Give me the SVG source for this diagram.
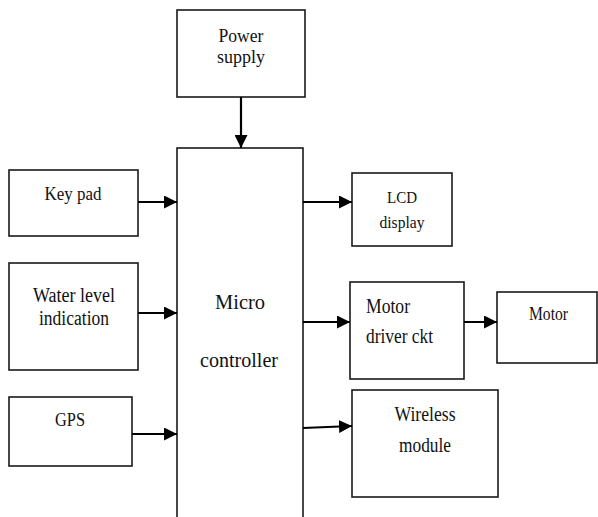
<svg xmlns="http://www.w3.org/2000/svg" width="598" height="517" viewBox="0 0 598 517">
<style>
.box{fill:#fff;stroke:#1a1a1a;stroke-width:1.6}
.con{fill:none;stroke:#000;stroke-width:2.2}
.t{fill:#111}
.m{text-anchor:middle}
</style>
<defs>
<marker id="ah" markerUnits="userSpaceOnUse" markerWidth="14" markerHeight="13" refX="13" refY="6.5" orient="auto">
<path d="M0,0 L13,6.5 L0,13 z" fill="#000"/>
</marker>
</defs>
<rect width="598" height="517" fill="#fff"/>
<g font-family="'Liberation Serif', 'DejaVu Serif', serif">
<g id="power">
<rect class="box" x="177" y="10" width="128" height="87"/>
<text class="t m" x="241" y="42" font-size="19" textLength="45" lengthAdjust="spacingAndGlyphs">Power</text>
<text class="t m" x="241" y="63" font-size="19" textLength="48" lengthAdjust="spacingAndGlyphs">supply</text>
</g>
<g id="micro">
<rect class="box" x="177" y="148" width="126" height="400"/>
<text class="t m" x="240" y="309" font-size="22" textLength="50" lengthAdjust="spacingAndGlyphs">Micro</text>
<text class="t m" x="239" y="367" font-size="22" textLength="78" lengthAdjust="spacingAndGlyphs">controller</text>
</g>
<g id="keypad">
<rect class="box" x="9" y="170" width="129" height="66"/>
<text class="t m" x="73" y="200" font-size="19" textLength="57" lengthAdjust="spacingAndGlyphs">Key pad</text>
</g>
<g id="water">
<rect class="box" x="9" y="263" width="129" height="107"/>
<text class="t m" x="74" y="302" font-size="20" textLength="82" lengthAdjust="spacingAndGlyphs">Water level</text>
<text class="t m" x="74" y="325" font-size="20" textLength="70" lengthAdjust="spacingAndGlyphs">indication</text>
</g>
<g id="gps">
<rect class="box" x="9" y="397" width="123" height="69"/>
<text class="t m" x="70" y="426" font-size="18" textLength="30" lengthAdjust="spacingAndGlyphs">GPS</text>
</g>
<g id="lcd">
<rect class="box" x="352" y="173" width="100" height="73"/>
<text class="t m" x="402" y="203" font-size="17" textLength="30" lengthAdjust="spacingAndGlyphs">LCD</text>
<text class="t m" x="402" y="228" font-size="17" textLength="45" lengthAdjust="spacingAndGlyphs">display</text>
</g>
<g id="driver">
<rect class="box" x="350" y="282" width="114" height="97"/>
<text class="t" x="366" y="313" font-size="20" textLength="44" lengthAdjust="spacingAndGlyphs">Motor</text>
<text class="t" x="366" y="343" font-size="20" textLength="67" lengthAdjust="spacingAndGlyphs">driver ckt</text>
</g>
<g id="motor">
<rect class="box" x="497" y="292" width="100" height="71"/>
<text class="t" x="529" y="320" font-size="18" textLength="39" lengthAdjust="spacingAndGlyphs">Motor</text>
</g>
<g id="wireless">
<rect class="box" x="352" y="390" width="146" height="107"/>
<text class="t m" x="425" y="421" font-size="20" textLength="61" lengthAdjust="spacingAndGlyphs">Wireless</text>
<text class="t m" x="425" y="452" font-size="20" textLength="52" lengthAdjust="spacingAndGlyphs">module</text>
</g>
</g>
<g id="connectors">
<path class="con" d="M241,97 L241,148" marker-end="url(#ah)"/>
<path class="con" d="M138,202 L177,202" marker-end="url(#ah)"/>
<path class="con" d="M138,313 L177,313" marker-end="url(#ah)"/>
<path class="con" d="M132,434 L177,434" marker-end="url(#ah)"/>
<path class="con" d="M303,202 L352,202" marker-end="url(#ah)"/>
<path class="con" d="M303,322 L350,322" marker-end="url(#ah)"/>
<path class="con" d="M464,322 L497,322" marker-end="url(#ah)"/>
<path class="con" d="M303,428 L352,426" marker-end="url(#ah)"/>
</g>
</svg>
